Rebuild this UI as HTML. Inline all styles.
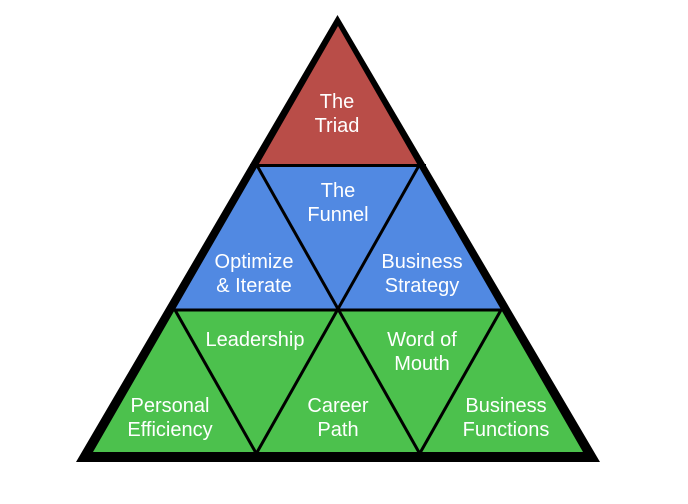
<!DOCTYPE html>
<html><head><meta charset="utf-8"><style>
html,body{margin:0;padding:0;background:#fff;}
svg{display:block;}
text{font-family:"Liberation Sans",Arial,sans-serif;font-size:20px;fill:#fff;text-anchor:middle;}
</style></head><body>
<svg width="688" height="504" viewBox="0 0 688 504" xmlns="http://www.w3.org/2000/svg">
<polygon points="337.5,15 76,462 600,462" fill="#000"/>
<polygon points="338,26 258,165.5 418,165.5" fill="#B94D48"/>
<polygon points="258,165.5 418,165.5 501.3,310 174.7,310" fill="#5189E2"/>
<polygon points="174.7,310 501.3,310 583,452 93,452" fill="#4CC14D"/>
<g stroke="#000" stroke-width="3" fill="none">
<line x1="250" y1="165.5" x2="426" y2="165.5"/>
<line x1="168" y1="310" x2="508" y2="310"/>
<line x1="257" y1="165.5" x2="420.5" y2="455"/>
<line x1="419" y1="165.5" x2="255.5" y2="455"/>
<line x1="175" y1="310" x2="256" y2="453"/>
<line x1="501" y1="310" x2="420" y2="453"/>
</g>
<text x="337" y="108">The</text>
<text x="337" y="132">Triad</text>
<text x="338" y="197">The</text>
<text x="338" y="221">Funnel</text>
<text x="254" y="268">Optimize</text>
<text x="254" y="292">&amp; Iterate</text>
<text x="422" y="268">Business</text>
<text x="422" y="292">Strategy</text>
<text x="255" y="346">Leadership</text>
<text x="422" y="346">Word of</text>
<text x="422" y="370">Mouth</text>
<text x="170" y="412">Personal</text>
<text x="170" y="436">Efficiency</text>
<text x="338" y="412">Career</text>
<text x="338" y="436">Path</text>
<text x="506" y="412">Business</text>
<text x="506" y="436">Functions</text>
</svg>
</body></html>
